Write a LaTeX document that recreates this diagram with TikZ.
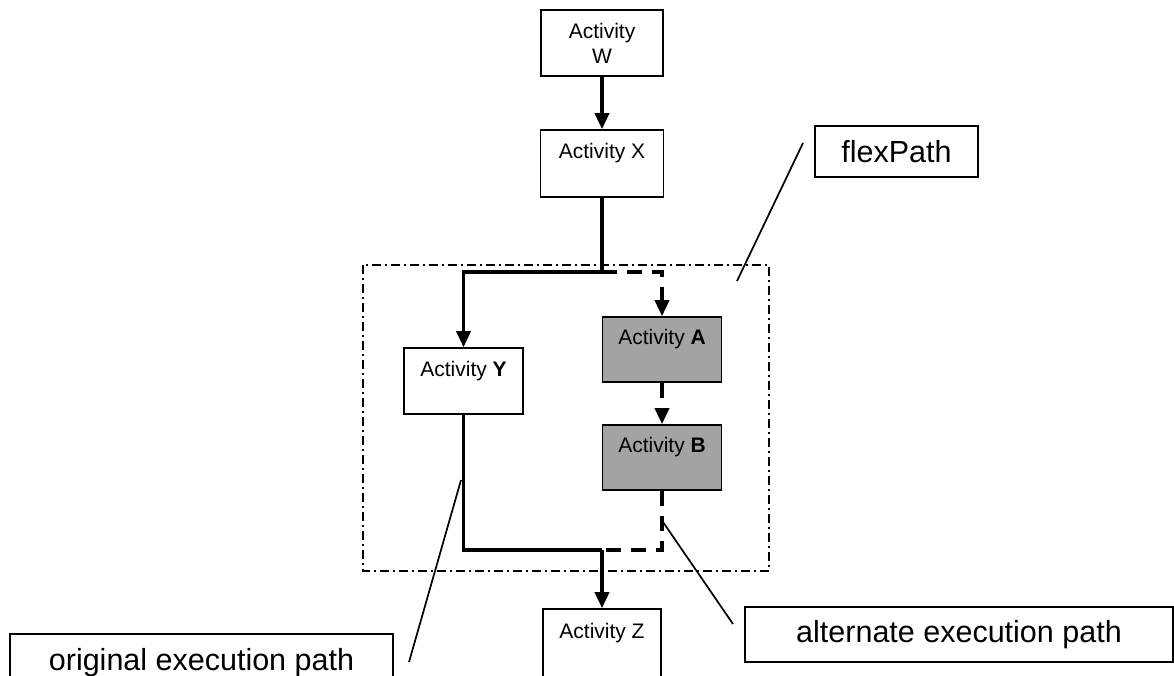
\documentclass[tikz,border=0pt]{standalone}
\usepackage{fontspec}
\setmainfont{Liberation Sans}
\usetikzlibrary{arrows.meta}
\begin{document}
\begin{tikzpicture}[x=1pt,y=-1pt,
  actbox/.style={draw, line width=1.6pt, align=center, inner sep=0pt,
    font=\fontsize{21}{25}\selectfont},
  altbox/.style={actbox, fill=black!36},
  labelbox/.style={draw, line width=1.6pt, inner sep=0pt,
    font=\fontsize{30.5}{36}\selectfont},
  flow/.style={line width=3.6pt, -{Triangle[length=16pt,width=14pt]}},
  flowline/.style={line width=3.6pt},
  altflow/.style={line width=3.6pt, dash pattern=on 15pt off 10pt, -{Triangle[length=16pt,width=14pt]}},
  altline/.style={line width=3.6pt, dash pattern=on 15pt off 10pt},
  frame/.style={line width=1.6pt, dash pattern=on 9pt off 4pt on 2pt off 4pt},
  leader/.style={line width=1.7pt}]
\useasboundingbox (0,0) rectangle (1174,675);
\clip (0,0) rectangle (1174,675);

% flexPath frame
\draw[frame] (363,265) rectangle (769,571);

% activities
\node[actbox, minimum width=122pt, minimum height=66pt] (w) at (602,43) {Activity\\W};
\node[actbox, minimum width=123pt, minimum height=67pt] (x) at (602,163.5) {Activity X\\ ~};
\node[actbox, minimum width=119pt, minimum height=66pt] (y) at (463.5,381) {Activity \textbf{Y}\\ ~};
\node[altbox, minimum width=119pt, minimum height=65pt] (a) at (662,349.5) {Activity \textbf{A}\\ ~};
\node[altbox, minimum width=119pt, minimum height=65pt] (b) at (662,457.5) {Activity \textbf{B}\\ ~};
\node[actbox, minimum width=118pt, minimum height=68pt] (z) at (602,643) {Activity Z\\ ~};

% callout labels
\node[labelbox, minimum width=163pt, minimum height=51pt] (flex) at (896.5,151.5) {flexPath};
\node[labelbox, minimum width=428pt, minimum height=55pt] (alt) at (959,634.5) {alternate execution path};
\node[labelbox, minimum width=383pt, minimum height=58pt] (orig) at (201.5,663) {original execution path};

% branch and merge points
\coordinate (split) at (602,272);
\coordinate (join) at (602,550);

% original execution path
\draw[flow] (w.south) -- (x.north);
\draw[flowline] (x.south) -- (split);
\draw[flow] (split) -| (y.north);
\draw[flowline] (y.south) |- (join);
\draw[flow] (join) -- (z.north);

% alternate execution path
\draw[altflow] (split) -| (a.north);
\draw[altflow] (a.south) -- (b.north);
\draw[altline] (b.south) |- (join);

% leader lines
\coordinate (flexA) at (803,143);
\coordinate (flexB) at (737,281);
\coordinate (origA) at (461,480);
\coordinate (origB) at (409,662);
\coordinate (altA) at (663,522);
\coordinate (altB) at (733,624);
\draw[leader] (flexA) -- (flexB);
\draw[leader] (origA) -- (origB);
\draw[leader] (altA) -- (altB);
\end{tikzpicture}
\end{document}
